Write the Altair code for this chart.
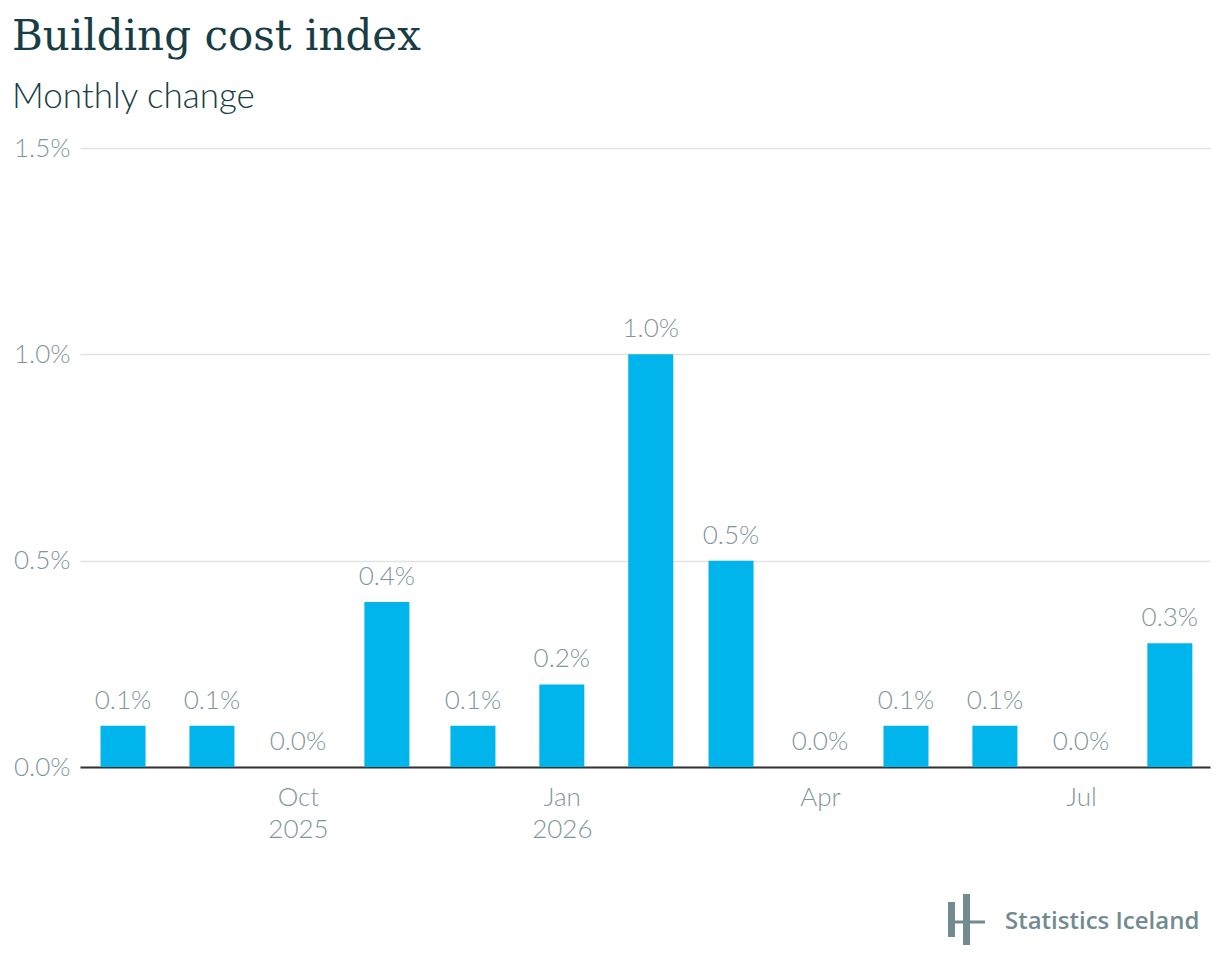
import altair as alt
import pandas as pd

months = ["2025-08-01T00:00:00", "2025-09-01T00:00:00", "2025-10-01T00:00:00", "2025-11-01T00:00:00",
          "2025-12-01T00:00:00", "2026-01-01T00:00:00", "2026-02-01T00:00:00", "2026-03-01T00:00:00",
          "2026-04-01T00:00:00", "2026-05-01T00:00:00", "2026-06-01T00:00:00", "2026-07-01T00:00:00",
          "2026-08-01T00:00:00"]
change = [0.1, 0.1, 0.0, 0.4, 0.1, 0.2, 1.0, 0.5, 0.0, 0.1, 0.1, 0.0, 0.3]
tick_dates = ["2025-10-01T00:00:00", "2026-01-01T00:00:00", "2026-04-01T00:00:00", "2026-07-01T00:00:00"]
y_ticks = [0.0, 0.5, 1.0, 1.5]

df = pd.DataFrame({"month": months, "change": change})

LABEL = "#7f969c"
DARK = "#173d45"
BAR = "#00b4ec"
LOGO = "#728b90"

x_enc = alt.X(
    "month:T",
    scale=alt.Scale(domain=["2025-07-17T00:00:00", "2026-08-15T00:00:00"], padding=0),
    axis=alt.Axis(
        title=None,
        values=tick_dates,
        labelExpr="(datum.index == 0 || month(datum.value) == 0) ? [timeFormat(datum.value, '%b'), timeFormat(datum.value, '%Y')] : timeFormat(datum.value, '%b')",
        ticks=False,
        grid=False,
        domainColor="#333333",
        domainWidth=2,
        labelFont="Lato",
        labelFontWeight=300,
        labelFontSize=26,
        labelColor=LABEL,
        labelPadding=17,
        labelLineHeight=32,
    ),
)
y_enc = alt.Y(
    "change:Q",
    scale=alt.Scale(domain=[0, 1.5], nice=False),
    axis=alt.Axis(
        title=None,
        values=y_ticks,
        labelExpr="format(datum.value, '.1f') + '%'",
        ticks=False,
        domain=False,
        gridColor="#e3e3e3",
        gridWidth=1.5,
        labelFont="Lato",
        labelFontWeight=300,
        labelFontSize=26,
        labelColor=LABEL,
        labelPadding=10,
    ),
)

bars = alt.Chart(df).mark_bar(width=45, color=BAR).encode(x=x_enc, y=y_enc)

texts = alt.Chart(df).transform_calculate(
    label="format(datum.change, '.1f') + '%'"
).mark_text(
    baseline="bottom", dy=-12, font="Lato", fontWeight=300, fontSize=26, color=LABEL
).encode(x="month:T", y="change:Q", text="label:N")

one = alt.Data(values=[{"a": 1}])
logo_left = alt.Chart(one).mark_rule(color=LOGO, strokeWidth=7).encode(
    x=alt.value(871.5), y=alt.value(754), y2=alt.value(789))
logo_tall = alt.Chart(one).mark_rule(color=LOGO, strokeWidth=7).encode(
    x=alt.value(886.5), y=alt.value(746), y2=alt.value(797))
logo_bar = alt.Chart(one).mark_rule(color=LOGO, strokeWidth=3).encode(
    x=alt.value(868), x2=alt.value(905), y=alt.value(774))
logo_text = alt.Chart(one).mark_text(
    align="left", baseline="alphabetic", font="Open Sans", fontWeight=600, fontSize=24, color=LOGO
).encode(x=alt.value(925), y=alt.value(781), text=alt.value("Statistics Iceland"))

chart = alt.layer(bars, texts, logo_left, logo_tall, logo_bar, logo_text).properties(
    width=1130,
    height=619,
    autosize=alt.AutoSizeParams(type="none"),
    padding={"left": 72, "top": 140, "right": 2, "bottom": 195},
    title=alt.TitleParams(
        text="Building cost index",
        subtitle="Monthly change",
        anchor="start",
        frame="group",
        dx=-68,
        dy=-19,
        offset=0,
        font="DejaVu Serif",
        fontSize=42,
        fontWeight="normal",
        color=DARK,
        subtitleFont="Lato",
        subtitleFontWeight=300,
        subtitleFontSize=35,
        subtitleColor=DARK,
        subtitlePadding=21,
    ),
).configure_view(stroke=None)

chart.save("out.html", embed_options={"renderer": "svg", "actions": False})
